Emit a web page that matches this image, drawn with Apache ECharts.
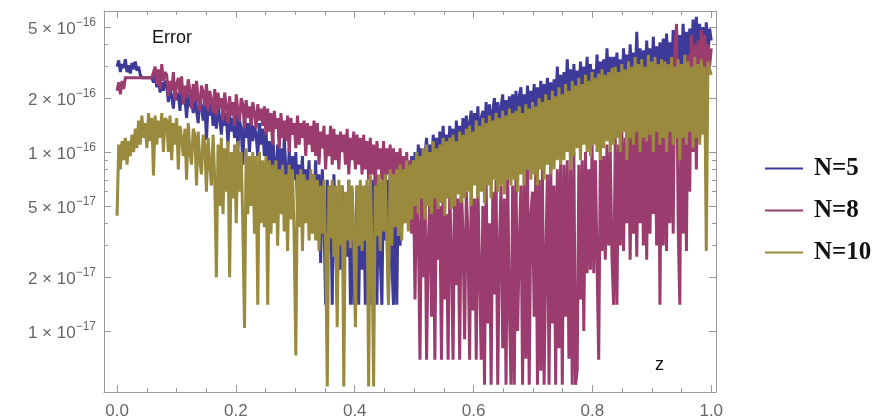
<!DOCTYPE html>
<html>
<head>
<meta charset="utf-8">
<script src="https://cdn.jsdelivr.net/npm/echarts@6.0.0/dist/echarts.min.js"></script>
<style>
  html, body { margin: 0; padding: 0; background: #fff; }
  #chart { width: 876px; height: 420px; }
</style>
</head>
<body>
<div id="chart"></div>
<script>
// error values in units of 1e-17, sampled evenly over z = 0 .. 1 (30 samples per row)
const err5 = [
  30, 32.5, 28, 31, 29.5, 33, 28, 30.5, 27.5, 31.5, 29, 32, 28.5, 30, 27, 26, 26, 26, 26, 26, 26, 26, 24.5, 27, 23, 25.5, 21.5, 24.5, 22, 25,
  23.5, 19, 22.5, 20.5, 17.5, 23, 19.5, 21.5, 17, 22, 18.5, 20, 15.5, 21, 18, 19.5, 16.5, 21.5, 17, 14.5, 20, 18, 15, 19.5, 11.7, 18.5, 16, 19, 14, 17.5,
  13.5, 18, 15.5, 12.5, 17, 14, 16.5, 11, 16, 13, 15.5, 12, 17, 10.5, 15, 13.5, 8.5, 16, 12, 14.5, 10, 15.5, 11.5, 14, 12.5, 9.5, 14.5, 11, 13.5, 9.5,
  13, 8.5, 11.5, 6, 12.5, 9, 5.5, 11, 7, 10.5, 5.5, 12, 8, 6, 10.5, 4.8, 9.5, 7, 10, 5, 8.5, 6.5, 9.5, 4.5, 8, 6, 9, 4.2, 7.5, 5.5,
  9, 3.5, 7.5, 2.4, 8, 4.5, 1.4, 7, 2.8, 6.5, 1.4, 7.5, 3.5, 1.4, 6, 2.2, 6.5, 1.4, 5.5, 2.6, 7, 1.4, 6, 1.4, 3, 6.5, 1.4, 5.5, 2.2, 6,
  1.4, 6.5, 3, 1.4, 7, 2.2, 7.5, 1.4, 6.5, 2.6, 1.4, 8, 3.2, 7, 1.4, 8.5, 2.4, 1.4, 8, 1.4, 7.5, 3, 8.5, 4, 9, 5, 8.5, 6, 9.5, 5.5,
  10, 6, 11, 7.5, 10.5, 6.5, 9.5, 12, 8, 11, 7, 12.5, 9, 12, 7.5, 13, 8.5, 14, 9, 12.5, 8, 14, 9.5, 13.5, 8.5, 15, 9, 14, 10, 15.5,
  10, 16, 11, 14.5, 17, 9.5, 16.5, 11.5, 18, 10.5, 15.5, 17, 12, 19, 10.5, 18.5, 11.5, 17, 20, 12, 19, 13, 18, 21, 12, 19.5, 13.5, 20.5, 14, 21,
  13, 22, 14, 20.5, 23, 13.5, 21, 15, 23.5, 14, 22, 16, 24, 14.5, 23, 15, 25, 16, 24, 15.5, 26, 17, 24.5, 16, 25.5, 17, 30, 18, 27, 17,
  28, 18, 33, 19, 29, 17, 31, 20, 28.5, 19, 32, 18.5, 30, 21, 34, 19.5, 31, 20, 29, 21, 35, 20, 32, 22, 33, 21, 38, 22, 34, 23,
  34, 22, 36, 23, 33, 21, 38, 24, 35, 22, 40, 25, 36, 23, 47, 24, 38, 25, 37, 23, 42, 26, 38, 24, 44, 25, 39, 26, 41, 27,
  43, 26, 46, 28, 41, 25, 48, 28, 50, 27, 45, 29, 52, 28, 47, 30, 49, 28, 55, 31, 57, 30, 52, 29, 50, 31, 53, 33, 49, 42
];
const err8 = [
  22, 24.5, 21, 25, 22.5, 26, 26, 26, 26, 26, 26, 26, 26, 26, 26, 26, 26, 26, 26, 26, 26, 26, 26, 30, 24, 29, 22.5, 31, 25, 28,
  27, 20.5, 25, 22, 28, 19.5, 24, 26, 21, 26.5, 18.5, 23.5, 20, 25.5, 22, 17.5, 24, 19, 25, 20, 17, 23.5, 21.5, 18, 24, 17, 22, 19.5, 16.5, 22.5,
  16, 21.5, 17.5, 20, 15, 21.5, 18, 14.5, 20.5, 16, 19, 14, 21, 17, 15, 20, 18.5, 13.5, 19.5, 15.5, 18, 14, 19, 16.5, 13.5, 18.5, 15, 17.5, 14, 18,
  12.5, 17.5, 13, 16.5, 11, 17, 13.5, 15.5, 10.5, 16.5, 12, 15, 11.5, 16, 10, 15.5, 12.5, 14.5, 10.5, 16, 11, 14.5, 12, 15, 9.5, 14.5, 11, 14, 10, 15,
  9.5, 14.5, 8.5, 13, 10.5, 14, 8, 12.5, 9.5, 14, 8.5, 13.5, 9, 12.5, 8, 13, 10, 12.5, 8.5, 13.5, 7.5, 12, 9, 13, 8, 12.5, 8.5, 12, 7.5, 12.5,
  8, 11.5, 7, 12, 7.5, 11, 6.5, 11.5, 8, 10.5, 7, 11.5, 6.5, 10.5, 7.5, 11, 6, 10.5, 7, 10, 5.5, 10.5, 6.5, 9.5, 5, 10, 4.5, 9, 3.5, 8.5,
  1.5, 7, 4, 0.69, 6, 2, 7.5, 0.69, 3, 5.5, 1.2, 7, 0.69, 6.5, 2.5, 5, 0.69, 7, 1.5, 4.5, 0.69, 6, 2.8, 0.69, 7.5, 1.8, 5.5, 0.69, 6.5, 3.5,
  0.9, 6, 3.5, 0.69, 7, 1.3, 5.5, 0.69, 6.5, 2.2, 0.69, 5, 0.5, 7, 1.1, 4, 0.5, 6, 1.6, 7, 0.5, 3, 6.5, 0.8, 5.5, 0.5, 7.5, 1.4, 0.5, 6.5,
  0.5, 8, 1, 3, 6.5, 0.5, 7.5, 0.7, 8, 0.5, 4.5, 6, 1.2, 8.5, 0.5, 7, 0.6, 8, 0.5, 2.5, 7.5, 0.5, 9, 1.1, 6.5, 0.5, 8, 0.8, 9, 0.5,
  8.5, 1.2, 9, 0.7, 8, 0.5, 10, 0.5, 0.6, 8.5, 1.5, 9, 1.0, 10, 2.1, 8, 2.2, 11, 2.1, 9, 2.4, 0.69, 10, 2.8, 9.5, 2.5, 11, 3, 10, 2.6,
  1.4, 12, 1.4, 11, 3, 13, 2.8, 12, 4, 14, 2.5, 13, 3.5, 15, 2.6, 14, 4, 16, 3, 15, 2.5, 18, 3.5, 17, 4.5, 20, 3, 30, 1.4, 22,
  3, 25, 2.8, 28, 4, 24, 3.5, 35, 52, 4, 1.4, 30, 3.5, 22, 2.8, 35, 6, 45, 10, 40, 8, 42, 12, 48, 20, 45, 25, 40, 30, 38
];
const err10 = [
  4.4, 11, 8, 11.5, 9, 12, 8.5, 11.5, 9.5, 12.5, 10, 13.5, 10.5, 15, 11, 16, 12, 14.5, 10.5, 16.5, 11.5, 15.5, 7.4, 16, 11, 15, 12, 16.5, 10, 15.5,
  15, 10, 16, 9, 14.5, 11, 15.5, 8, 14, 12, 9.5, 13.5, 7, 14.5, 10, 8.5, 13.5, 12.5, 6.5, 13, 9, 7.5, 12.5, 11, 6, 12, 8.5, 6.5, 12.5, 7,
  2.0, 11, 5, 12, 4.5, 10.5, 6, 11.5, 2.0, 10, 5.5, 11, 4, 11.5, 6, 10, 3.8, 1.04, 10.5, 4.5, 9.5, 5, 10, 3.5, 9.5, 1.4, 10, 4, 9, 3.8,
  9.5, 1.4, 9, 3.5, 8.5, 4, 9, 3, 8, 4.5, 8.5, 3.6, 7.5, 2.8, 8.5, 4.2, 8, 3.3, 0.73, 7.5, 3.8, 8, 2.8, 7.5, 4, 7, 3.2, 8, 3.5, 7.5,
  3.2, 7, 2.8, 6.5, 3.5, 7, 3, 0.49, 6.5, 3.3, 7, 2.6, 6.5, 1.05, 7, 3, 6.5, 0.49, 6, 3.2, 7, 2.9, 6.5, 3.4, 1.05, 6.5, 3, 7, 2.8, 6.5,
  3.2, 7, 0.49, 7.5, 3, 0.49, 6.5, 3.4, 7.5, 2.8, 7, 3.6, 7.5, 3.2, 1.4, 8, 3, 7.5, 3.8, 8, 3.4, 8.5, 3.2, 8, 4, 9, 3.6, 8.5, 4.2, 9,
  5, 10, 4.5, 9.5, 5.5, 10.5, 4.2, 11, 5, 10, 4.5, 11.5, 5.5, 10.5, 4.8, 11, 5.2, 12, 4.4, 11.5, 5.5, 12, 4.8, 12.5, 5, 11.5, 5.8, 13, 5.2, 12.5,
  5.5, 13.5, 6, 14, 5, 13, 6.5, 15, 5.5, 14, 6, 15.5, 5.2, 14.5, 6.5, 16, 5.5, 15, 7, 16.5, 6, 15.5, 6.5, 17, 5.8, 16, 7, 17.5, 6.5, 16.5,
  7, 17, 6, 18, 7.5, 16.5, 6.5, 18.5, 8, 17.5, 7, 19, 7.5, 18, 6.5, 20, 8, 19, 7, 21, 8.5, 19.5, 7.5, 22, 8, 20.5, 9, 23, 8.5, 21,
  9, 24, 10, 22, 8, 25, 9.5, 23.5, 10.5, 26, 9, 24, 11, 27, 10, 25, 9.5, 28, 11, 26, 10, 27.5, 9, 29, 10.5, 27, 11.5, 28, 10, 29.5,
  11, 30, 12, 28, 10, 31, 13, 29, 9, 32, 12, 30, 11, 34, 13, 31, 10, 33, 12, 30, 11.5, 35, 12.5, 32, 10, 34, 13, 31, 11, 33,
  12, 32, 10, 31, 13, 34, 11, 30, 12, 33, 9, 31, 12, 35, 11, 32, 13, 30, 10.5, 34, 12, 31, 11, 33, 12.5, 30, 2.8, 32, 29, 27
];
const seriesNames = ['N=5', 'N=8', 'N=10'];
const seriesColors = ['#3e3a99', '#9a3c6e', '#998a3d'];

const xMajor = [0, 0.2, 0.4, 0.6, 0.8, 1.0];
const xMinor = [0.05, 0.1, 0.15, 0.25, 0.3, 0.35, 0.45, 0.5, 0.55, 0.65, 0.7, 0.75, 0.85, 0.9, 0.95];
const yMajor = [1e-17, 2e-17, 5e-17, 1e-16, 2e-16, 5e-16];
const yMajorMant = ['1', '2', '5', '1', '2', '5'];
const yMajorExp = ['−17', '−17', '−17', '−16', '−16', '−16'];
const yMinor = [3e-17, 4e-17, 6e-17, 7e-17, 8e-17, 9e-17, 3e-16, 4e-16];

const UNIT = 1e-17;
const X_MIN = -0.022, X_MAX = 1.008;
const Y_MIN = 4.56e-18, Y_MAX = 6.14e-16;
const LY_MIN = Math.log10(Y_MIN), LY_MAX = Math.log10(Y_MAX);

const frame = '#9a9a9a';
const labelFont = 'Liberation Sans';

function toPoints(vals) {
  return vals.map((v, i) => [i / (vals.length - 1), v * UNIT]);
}

function xAxisFor(pos, ticks, len, withLine, withLabels) {
  return {
    type: 'value', position: pos, min: X_MIN, max: X_MAX,
    axisLine: { show: withLine, onZero: false, lineStyle: { color: frame, width: 1 } },
    axisTick: { show: true, inside: true, length: len, customValues: ticks, lineStyle: { color: frame } },
    axisLabel: withLabels ? {
      show: true, customValues: xMajor, margin: 11, color: '#666',
      fontFamily: labelFont, fontSize: 17,
      formatter: v => v.toFixed(1)
    } : { show: false },
    splitLine: { show: false }
  };
}

// ticks of the log axis are drawn on an overlay axis in log10 units
function yAxisFor(pos, ticks, len, withLine, withLabels) {
  return {
    type: 'value', position: pos, min: LY_MIN, max: LY_MAX,
    axisLine: { show: withLine, onZero: false, lineStyle: { color: frame, width: 1 } },
    axisTick: { show: true, inside: true, length: len, customValues: ticks.map(Math.log10), lineStyle: { color: frame } },
    axisLabel: withLabels ? {
      show: true, customValues: yMajor.map(Math.log10), margin: 8,
      formatter: v => {
        let k = 0;
        yMajor.forEach((t, i) => { if (Math.abs(Math.log10(t) - v) < Math.abs(Math.log10(yMajor[k]) - v)) k = i; });
        return '{a|' + yMajorMant[k] + ' × 10}{b|' + yMajorExp[k] + '}';
      },
      rich: {
        a: { fontFamily: labelFont, fontSize: 17, color: '#666', lineHeight: 20, padding: [4, 0, 0, 0] },
        b: { fontFamily: labelFont, fontSize: 12, color: '#666', lineHeight: 12, verticalAlign: 'top' }
      }
    } : { show: false },
    splitLine: { show: false }
  };
}

const chart = echarts.init(document.getElementById('chart'));
chart.setOption({
  animation: false,
  backgroundColor: '#fff',
  grid: { left: 104, right: 160, top: 11, bottom: 28, containLabel: false, outerBoundsMode: 'none' },
  legend: {
    orient: 'vertical', left: 760, top: 151,
    data: seriesNames, icon: 'rect', itemWidth: 38, itemHeight: 2, itemGap: 17,
    textStyle: { fontFamily: 'Liberation Serif', fontWeight: 'bold', fontSize: 25, color: '#111', padding: [0, 0, 0, 6] }
  },
  xAxis: [
    xAxisFor('bottom', xMajor, 7, true, true),
    xAxisFor('bottom', xMinor, 4, false, false),
    xAxisFor('top', xMajor, 7, true, false),
    xAxisFor('top', xMinor, 4, false, false)
  ],
  yAxis: [
    { type: 'log', logBase: 10, min: Y_MIN, max: Y_MAX, show: false },
    yAxisFor('left', yMajor, 7, true, true),
    yAxisFor('left', yMinor, 4, false, false),
    yAxisFor('right', yMajor, 7, true, false),
    yAxisFor('right', yMinor, 4, false, false)
  ],
  graphic: [
    { type: 'text', left: 152, top: 29, style: { text: 'Error', fontFamily: labelFont, fontSize: 18, fill: '#111' } },
    { type: 'text', left: 655, top: 356, style: { text: 'z', fontFamily: labelFont, fontSize: 18, fill: '#111' } }
  ],
  series: [err5, err8, err10].map((vals, k) => ({
    name: seriesNames[k],
    type: 'line',
    xAxisIndex: 0,
    yAxisIndex: 0,
    data: toPoints(vals),
    showSymbol: false,
    color: seriesColors[k],
    lineStyle: { width: 3, color: seriesColors[k], join: 'miter', miterLimit: 2 },
    z: 2 + k
  }))
});
</script>
</body>
</html>
